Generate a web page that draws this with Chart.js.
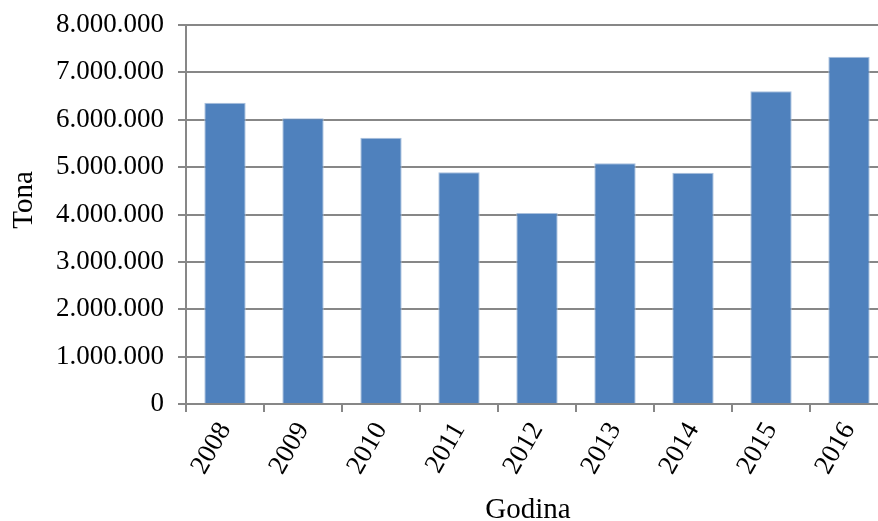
<!DOCTYPE html>
<html>
<head>
<meta charset="utf-8">
<script src="https://cdn.jsdelivr.net/npm/chart.js@4/dist/chart.umd.min.js"></script>
<style>
  html, body { margin: 0; padding: 0; background: #fff; overflow: hidden; }
  #wrap { width: 890px; height: 521px; position: relative; }
</style>
</head>
<body>
<div id="wrap"><canvas id="chart"></canvas></div>
<script>
// ── Data ──
const years  = ['2008', '2009', '2010', '2011', '2012', '2013', '2014', '2015', '2016'];
const tonnes = [6360000, 6030000, 5620000, 4890000, 4030000, 5080000, 4880000, 6600000, 7330000];
const yTicks = [0, 1000000, 2000000, 3000000, 4000000, 5000000, 6000000, 7000000, 8000000];
const xTitle = 'Godina';
const yTitle = 'Tona';

const FONT = "'Liberation Serif', 'Times New Roman', serif";
const GRID = '#878787';

// dots as thousand separators: 8.000.000
const fmt = (v) => String(v).replace(/\B(?=(\d{3})+(?!\d))/g, '.');

// axis titles drawn at fixed spots, like the original
const axisTitles = {
  id: 'axisTitles',
  afterDraw(chart) {
    const ctx = chart.ctx;
    ctx.save();
    ctx.fillStyle = '#000';
    ctx.font = `29px ${FONT}`;
    ctx.textAlign = 'center';
    ctx.textBaseline = 'alphabetic';
    ctx.fillText(xTitle, 528, 518);
    ctx.translate(32, 200);
    ctx.rotate(-Math.PI / 2);
    ctx.fillText(yTitle, 0, 0);
    ctx.restore();
  },
};

new Chart(document.getElementById('chart'), {
  type: 'bar',
  data: {
    labels: years,
    datasets: [{
      data: tonnes,
      backgroundColor: '#4f81bd',
      borderColor: '#a9c0dd',
      borderWidth: { left: 1, right: 1, top: 1, bottom: 0 },
      categoryPercentage: 1,
      barPercentage: 0.53,
    }],
  },
  options: {
    responsive: true,
    maintainAspectRatio: false,
    animation: false,
    layout: { padding: { top: 25, right: 2, bottom: 0, left: 0 } },
    plugins: { legend: { display: false }, tooltip: { enabled: false } },
    scales: {
      x: {
        offset: true,
        grid: {
          offset: true,
          drawOnChartArea: false,
          drawTicks: true,
          tickLength: 8,
          color: GRID,
          lineWidth: 2,
        },
        border: { display: true, color: GRID, width: 2 },
        ticks: {
          color: '#000',
          font: { family: FONT, size: 27 },
          minRotation: 60,
          maxRotation: 60,
          padding: 5,
        },
        afterFit(scale) { scale.height = 117; },
      },
      y: {
        min: 0,
        max: 8000000,
        afterBuildTicks(scale) { scale.ticks = yTicks.map((v) => ({ value: v })); },
        grid: {
          color: GRID,
          lineWidth: 2,
          tickLength: 8,
        },
        border: { display: true, color: GRID, width: 2 },
        ticks: {
          color: '#000',
          font: { family: FONT, size: 27 },
          padding: 14,
          callback: (v) => fmt(v),
        },
        afterFit(scale) {
          scale.width = 186;
          scale.paddingTop = 0;
          scale.paddingBottom = 0;
        },
      },
    },
  },
  plugins: [axisTitles],
});
</script>
</body>
</html>
